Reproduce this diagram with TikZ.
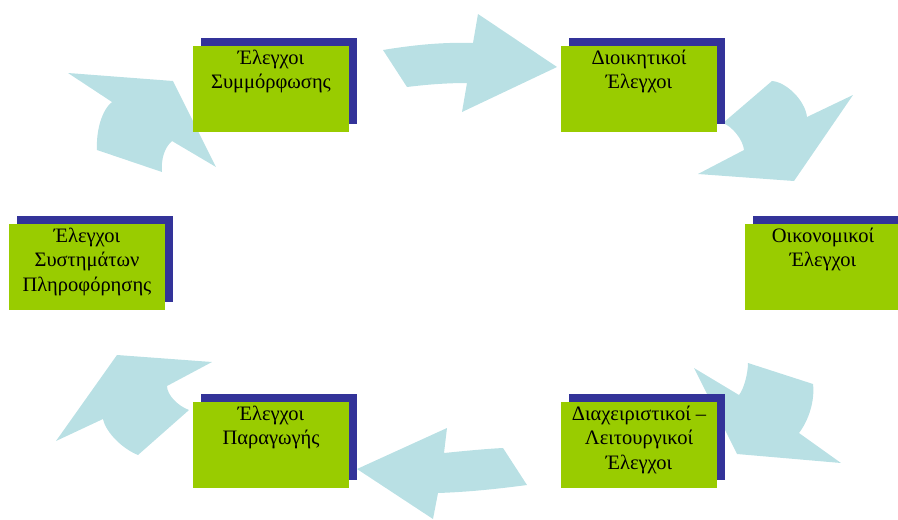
\documentclass[tikz,border=0pt]{standalone}
\usepackage{fontspec}
\setmainfont{Liberation Serif}
\usetikzlibrary{positioning}
\definecolor{arrowblue}{HTML}{B9E0E4}
\definecolor{boxgreen}{HTML}{99CC00}
\definecolor{shadowblue}{HTML}{333399}
\begin{document}
\begin{tikzpicture}[x=1pt, y=-1pt,
    flow/.style={fill=arrowblue, draw=none},
    shadowbox/.style={rectangle, fill=shadowblue, minimum width=156pt, minimum height=86pt, inner sep=0pt},
    ctrlbox/.style={rectangle, fill=boxgreen, minimum width=156pt, minimum height=86pt, inner sep=0pt},
    ctrltext/.style={align=center, inner sep=0pt, font=\fontsize{20.5}{24.5}\selectfont, execute at begin node=\strut}]
    \useasboundingbox (0,0) rectangle (898,520);

    % curved arrows round the cycle
    \fill[flow] (383,50) .. controls (413,45) and (443,42) .. (473,43) -- (478,14) -- (557,67) -- (462,112) -- (467,83) .. controls (447,83) and (427,84.5) .. (407,87) -- cycle;
    \fill[flow] (772,81) .. controls (786,82) and (805,100) .. (807,117) -- (853,95) -- (794,181) -- (698,174) -- (744,150) .. controls (743,140) and (733,127) .. (723,123) -- cycle;
    \fill[flow] (694,368) -- (739,395) .. controls (744,389) and (748,373) .. (748,363) -- (813,384) .. controls (815,400) and (809,420) .. (799,433) -- (841,463) -- (737,454) -- cycle;
    \fill[flow] (357,469) -- (447,428) -- (444,453) .. controls (464,451) and (484,449) .. (503,448) -- (527,485) .. controls (497,489) and (468,492) .. (438,493) -- (433,519) -- cycle;
    \fill[flow] (117,355) -- (212,362) -- (167,386) .. controls (167,395) and (178,406) .. (189,410) -- (138,455) .. controls (123,449) and (106,433) .. (103,419) -- (56,441) -- cycle;
    \fill[flow] (68,73) -- (173,81) -- (216,167) -- (172,141) .. controls (164,148) and (161,160) .. (162,172) -- (97,150) .. controls (96,130) and (102,110) .. (112,102) -- cycle;

    % boxes
    \node[shadowbox] (s1) at (279,81) {};
    \node[ctrlbox] (b1) at (271,89) {};
    \node[ctrltext, below=4pt of b1.north] (t1) {Έλεγχοι\\Συμμόρφωσης};

    \node[shadowbox] (s2) at (647,81) {};
    \node[ctrlbox] (b2) at (639,89) {};
    \node[ctrltext, below=4pt of b2.north] (t2) {Διοικητικοί\\Έλεγχοι};

    \node[shadowbox] (s3) at (831,259) {};
    \node[ctrlbox] (b3) at (823,267) {};
    \node[ctrltext, below=4pt of b3.north] (t3) {Οικονομικοί\\Έλεγχοι};

    \node[shadowbox] (s4) at (647,437) {};
    \node[ctrlbox] (b4) at (639,445) {};
    \node[ctrltext, below=4pt of b4.north] (t4) {Διαχειριστικοί –\\Λειτουργικοί\\Έλεγχοι};

    \node[shadowbox] (s5) at (279,437) {};
    \node[ctrlbox] (b5) at (271,445) {};
    \node[ctrltext, below=4pt of b5.north] (t5) {Έλεγχοι\\Παραγωγής};

    \node[shadowbox] (s6) at (95,259) {};
    \node[ctrlbox] (b6) at (87,267) {};
    \node[ctrltext, below=4pt of b6.north] (t6) {Έλεγχοι\\Συστημάτων\\Πληροφόρησης};
\end{tikzpicture}
\end{document}
